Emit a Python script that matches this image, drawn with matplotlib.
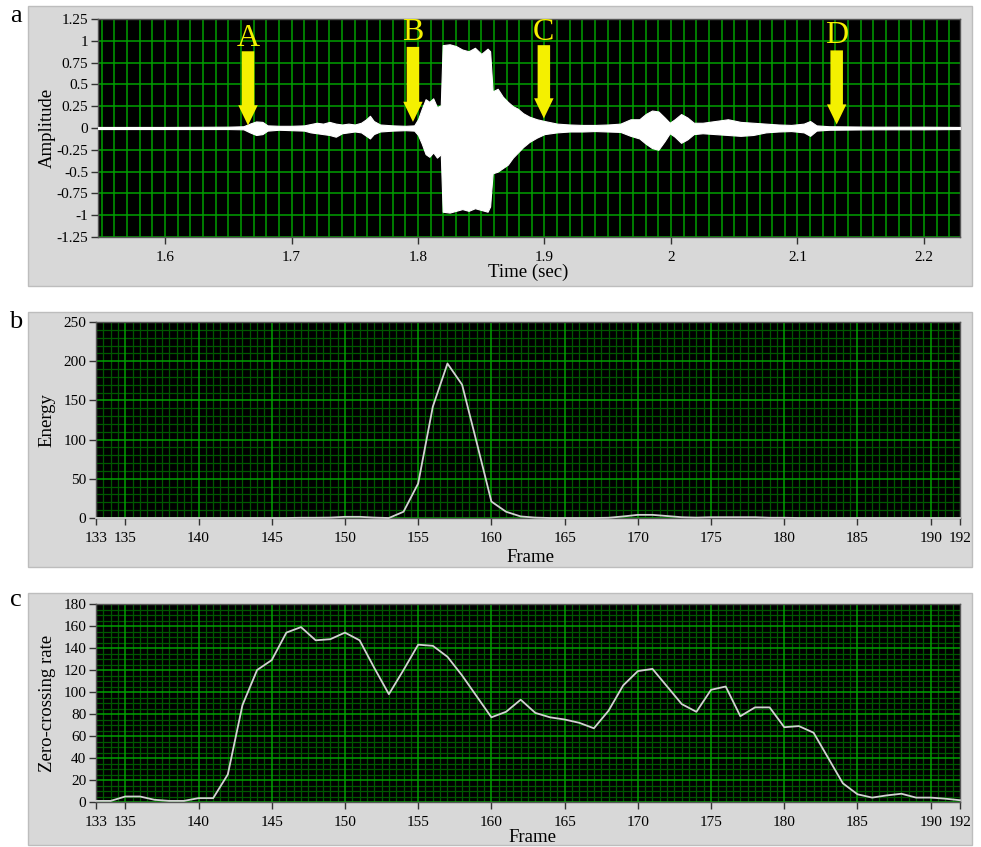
import matplotlib
matplotlib.use("Agg")
import matplotlib.pyplot as plt
from matplotlib.patches import Rectangle, FancyArrowPatch
import numpy as np

# ---------------- data ----------------
# Panel a: waveform envelope (time in s, upper/lower amplitude)
wave_t = [1.547, 1.60, 1.65, 1.662, 1.667, 1.672, 1.677, 1.681, 1.69, 1.70, 1.71, 1.715,
          1.72, 1.725, 1.73, 1.735, 1.74, 1.745, 1.75, 1.755, 1.759, 1.762, 1.765, 1.77,
          1.78, 1.79, 1.797, 1.800, 1.803, 1.806, 1.809, 1.812, 1.815, 1.818, 1.8195,
          1.825, 1.83, 1.835, 1.84, 1.845, 1.85, 1.855, 1.857, 1.859, 1.863, 1.867, 1.871,
          1.875, 1.879, 1.883, 1.888, 1.894, 1.90, 1.91, 1.92, 1.93, 1.94, 1.95, 1.96,
          1.968, 1.975, 1.98, 1.985, 1.99, 1.995, 1.999, 2.003, 2.008, 2.013, 2.018, 2.025,
          2.035, 2.045, 2.055, 2.065, 2.075, 2.085, 2.095, 2.105, 2.11, 2.115, 2.125, 2.14,
          2.16, 2.18, 2.20, 2.2285]
wave_upper = [0.012, 0.012, 0.015, 0.02, 0.05, 0.075, 0.07, 0.03, 0.025, 0.025, 0.03, 0.045,
              0.06, 0.05, 0.07, 0.05, 0.04, 0.05, 0.04, 0.06, 0.10, 0.14, 0.08, 0.04,
              0.03, 0.025, 0.03, 0.10, 0.22, 0.33, 0.30, 0.34, 0.24, 0.26, 0.95,
              0.96, 0.94, 0.90, 0.88, 0.92, 0.85, 0.91, 0.88, 0.42, 0.45, 0.36, 0.30,
              0.25, 0.22, 0.17, 0.13, 0.10, 0.08, 0.05, 0.04, 0.035, 0.035, 0.04, 0.05,
              0.10, 0.10, 0.16, 0.20, 0.19, 0.12, 0.06, 0.10, 0.16, 0.12, 0.06, 0.06,
              0.08, 0.10, 0.07, 0.06, 0.05, 0.04, 0.035, 0.05, 0.08, 0.03, 0.02, 0.018,
              0.015, 0.015, 0.015, 0.012]
wave_lower = [-0.012, -0.012, -0.012, -0.015, -0.05, -0.08, -0.07, -0.03, -0.02, -0.025, -0.03, -0.05,
              -0.06, -0.07, -0.08, -0.10, -0.06, -0.05, -0.04, -0.05, -0.09, -0.12, -0.07, -0.04,
              -0.03, -0.025, -0.03, -0.08, -0.18, -0.30, -0.33, -0.28, -0.34, -0.30, -0.96,
              -0.97, -0.95, -0.93, -0.95, -0.92, -0.94, -0.96, -0.90, -0.52, -0.50, -0.46, -0.42,
              -0.34, -0.28, -0.22, -0.16, -0.11, -0.07, -0.05, -0.04, -0.04, -0.035, -0.04, -0.045,
              -0.09, -0.12, -0.18, -0.23, -0.25, -0.15, -0.06, -0.10, -0.17, -0.13, -0.07, -0.06,
              -0.07, -0.08, -0.09, -0.08, -0.05, -0.04, -0.035, -0.05, -0.09, -0.03, -0.02, -0.018,
              -0.015, -0.015, -0.015, -0.012]

marker_labels = ["A", "B", "C", "D"]
marker_times = [1.6656, 1.796, 1.8995, 2.131]

amp_ticks = [-1.25, -1.0, -0.75, -0.5, -0.25, 0.0, 0.25, 0.5, 0.75, 1.0, 1.25]
amp_ticklabels = ["-1.25", "-1", "-0.75", "-0.5", "-0.25", "0", "0.25", "0.5", "0.75", "1", "1.25"]
time_ticks = [1.6, 1.7, 1.8, 1.9, 2.0, 2.1, 2.2]
time_ticklabels = ["1.6", "1.7", "1.8", "1.9", "2", "2.1", "2.2"]

# Panels b, c: per-frame values
frames = list(range(133, 193))
energy = [0, 0, 0, 0, 0, 0, 0, 0, 0, 0, 0, 0, 0, 0,          # 133-146
          0.3, 0.3, 0.5, 1.5, 1.5, 0.5, 0,                    # 147-153
          8, 44, 142, 197, 170, 96, 21, 8, 2, 0.5,            # 154-163
          0, 0, 0, 0, 0.3, 2, 4, 4, 2.5, 1, 0.5,              # 164-174
          1, 1, 1, 1, 0.3, 0.3,                               # 175-180
          0, 0, 0, 0, 0, 0, 0, 0, 0, 0, 0, 0]                 # 181-192
zcr = [1, 1, 5, 5, 2, 1, 1, 3.5, 3.5, 25,                     # 133-142
       88, 120, 129, 154, 159, 147, 148, 154, 147, 122,       # 143-152
       98, 120, 143, 142, 132, 115, 96, 77, 82, 93,           # 153-162
       81, 77, 75, 72, 67, 83, 106, 119, 121, 105,            # 163-172
       89, 82, 102, 105, 78, 86, 86, 68, 69, 63,              # 173-182
       40, 17, 7, 4, 6, 7.5, 4, 4, 3, 1.6]                    # 183-192

frame_ticks = [133, 135, 140, 145, 150, 155, 160, 165, 170, 175, 180, 185, 190, 192]
energy_ticks = [0, 50, 100, 150, 200, 250]
zcr_ticks = list(range(0, 181, 20))

# ---------------- figure ----------------
W, H = 981, 847
fig = plt.figure(figsize=(W / 100, H / 100), dpi=100)
fig.patch.set_facecolor("white")
SERIF = ["Liberation Serif", "DejaVu Serif"]
plt.rcParams["font.family"] = SERIF

def fx(px):
    return px / W

def fy(py):
    return 1 - py / H

# gray LabVIEW-like frames
for top, bot in [(6, 286), (312, 567), (593, 845)]:
    fig.patches.append(Rectangle((fx(28), fy(bot)), fx(972) - fx(28), fy(top) - fy(bot),
                                 transform=fig.transFigure, facecolor="#d8d8d8",
                                 edgecolor="#bdbdbd", linewidth=1.0, zorder=-10))

for letter, py in [("a", 16), ("b", 322), ("c", 600)]:
    fig.text(fx(16), fy(py), letter, fontsize=19, ha="center", va="center", family=SERIF)

MAJOR = "#00a000"
MINOR = "#005800"

def style_axes(ax):
    ax.set_zorder(5)
    ax.set_facecolor("black")
    for s in ax.spines.values():
        s.set_color("#555555")
        s.set_linewidth(1.0)
    ax.tick_params(axis="both", direction="out", length=5, width=1, color="#333333",
                   labelsize=11, pad=2)
    ax.tick_params(axis="x", pad=5)

# ---------------- panel a ----------------
axa = fig.add_axes([fx(98), fy(237), fx(960) - fx(98), fy(19) - fy(237)])
style_axes(axa)
axa.set_xlim(1.547, 2.2285)
axa.set_ylim(-1.25, 1.25)
for v in np.arange(1.55, 2.2285, 0.01):
    axa.axvline(v, color=MAJOR, lw=1.1, zorder=1)
for v in amp_ticks:
    axa.axhline(v, color=MAJOR, lw=1.1, zorder=1)
axa.fill_between(wave_t, wave_lower, wave_upper, color="white", lw=0.8,
                 edgecolor="white", zorder=3)
axa.set_xticks(time_ticks)
axa.set_xticklabels(time_ticklabels)
axa.set_yticks(amp_ticks)
axa.set_yticklabels(amp_ticklabels)

tips = [0.03, 0.07, 0.11, 0.04]
tails = [0.88, 0.93, 0.95, 0.89]
label_y = [1.03, 1.10, 1.10, 1.06]
for lab, t, tip, tail, ly in zip(marker_labels, marker_times, tips, tails, label_y):
    arr = FancyArrowPatch((t, tail), (t, tip),
                          arrowstyle="simple,head_length=1.45,head_width=1.4,tail_width=0.9",
                          mutation_scale=10, color="#f4f000", lw=0, zorder=5,
                          shrinkA=0, shrinkB=0)
    axa.add_patch(arr)
    axa.text(t, ly, lab, color="#f4f000", fontsize=23, ha="center", va="center",
             family=SERIF, zorder=6)

fig.text(fx(47), fy(128), "Amplitude", rotation=90, fontsize=13.5, ha="center", va="center")
fig.text(fx(528), fy(272), "Time (sec)", fontsize=13.5, ha="center", va="center")

# ---------------- panels b, c ----------------
def frame_panel(rect, values, yticks, ymax, yminor):
    ax = fig.add_axes(rect)
    style_axes(ax)
    ax.set_xlim(133, 192)
    ax.set_ylim(0, ymax)
    for v in np.arange(133, 192.01, 0.5):
        if v % 5 != 0:
            ax.axvline(v, color=MINOR, lw=0.9, zorder=1)
    for v in np.arange(0, ymax + 0.01, yminor):
        if v not in yticks:
            ax.axhline(v, color=MINOR, lw=0.9, zorder=1)
    for v in range(135, 191, 5):
        ax.axvline(v, color=MAJOR, lw=1.1, zorder=2)
    for v in yticks:
        ax.axhline(v, color=MAJOR, lw=1.1, zorder=2)
    ax.plot(frames, values, color="#d2d2d2", lw=1.3, zorder=4, clip_on=False)
    ax.set_xticks(frame_ticks)
    ax.set_xticklabels([str(f) for f in frame_ticks])
    ax.set_yticks(yticks)
    ax.set_yticklabels([str(v) for v in yticks])
    return ax

axb = frame_panel([fx(96), fy(518), fx(960) - fx(96), fy(322) - fy(518)],
                  energy, energy_ticks, 250, 10)
fig.text(fx(47), fy(420), "Energy", rotation=90, fontsize=13.5, ha="center", va="center")
fig.text(fx(530), fy(557), "Frame", fontsize=13.5, ha="center", va="center")

axc = frame_panel([fx(96), fy(802), fx(960) - fx(96), fy(604) - fy(802)],
                  zcr, zcr_ticks, 180, 5)
fig.text(fx(47), fy(703), "Zero-crossing rate", rotation=90, fontsize=13.5,
         ha="center", va="center")
fig.text(fx(532), fy(837), "Frame", fontsize=13.5, ha="center", va="center")

fig.savefig("out.png", dpi=100, facecolor="white")
